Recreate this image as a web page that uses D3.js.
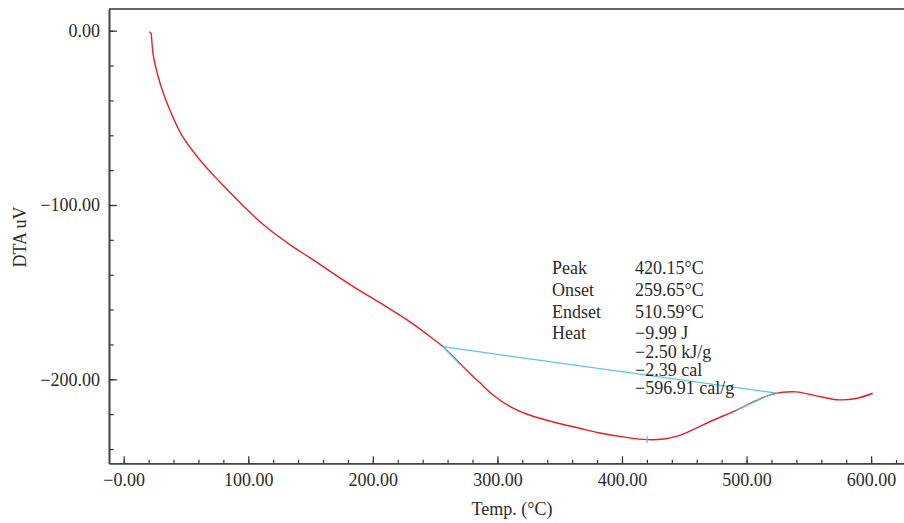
<!DOCTYPE html>
<html>
<head>
<meta charset="utf-8">
<script src="https://cdn.jsdelivr.net/npm/d3@7"></script>
<style>
  body { margin: 0; background: #fff; }
  svg text { font-family: "Liberation Serif", "DejaVu Serif", serif; fill: #2a2a2a; }
</style>
</head>
<body>
<div class="chart"></div>
<script>
// DTA curve
var temps = [20.5, 21.9, 22.5, 23.7, 27.7, 31.8, 37.1, 46.5, 61.2, 77.2, 93.3, 112, 136, 150,
  181.5, 210, 229.6, 245, 256.4, 275.1, 285.8, 296.5, 309.9, 323.3, 345, 366, 382.1, 406,
  420, 432, 445, 459.6, 473, 491.7, 507.7, 521, 539.8, 555.9, 574.5, 588, 601.3]
var dta = [-0.6, -1.5, -5.3, -14, -26.4, -35.9, -45.5, -59.8, -74.2, -86.8, -98.6, -111.2, -124, -130.5,
  -145.5, -158, -166.9, -175, -181.3, -194.6, -201.9, -209, -215.5, -219.9, -224.5, -228.1, -230.8, -233.6,
  -234.6, -234.4, -232.5, -228, -223.5, -217.8, -212.2, -208.5, -207.2, -209.5, -211.8, -211, -208]

// baseline + tangent construction (temp, value)
var baseline = [[255.9, -181.3], [525, -208]]
var onsetTangent = [[256.4, -181.3], [270, -191.5]]
var endTangent = [[491.7, -217.8], [522, -207.8]]
var peakPoint = [420.15, -234.6]

var xTicks = [0, 100, 200, 300, 400, 500, 600]
var xTickLabels = ['\u22120.00', '100.00', '200.00', '300.00', '400.00', '500.00', '600.00']
var yTicks = [0, -100, -200]
var yTickLabels = ['0.00', '\u2212100.00', '\u2212200.00']

var annLabels = ['Peak', 'Onset', 'Endset', 'Heat']
var annValues = ['420.15\u00b0C', '259.65\u00b0C', '510.59\u00b0C', '\u22129.99 J',
  '\u22122.50 kJ/g', '\u22122.39 cal', '\u2212596.91 cal/g']

var width = 904
var height = 523
var mLeft = 109, mRight = 904, mTop = 9, mBottom = 463.3
var fontSize = '18px'

var svg = d3.select('.chart')
  .append('svg')
  .attr('width', width)
  .attr('height', height)

var x = d3.scaleLinear().domain([-11.8, 626.4]).range([mLeft, mRight])
var y = d3.scaleLinear().domain([-248.2, 12.45]).range([mBottom, mTop])

function minorTicks(lo, hi) {
  return d3.range(lo, hi + 1, 20)
}

// top frame line
svg.append('line')
  .attr('x1', mLeft).attr('x2', mRight)
  .attr('y1', mTop).attr('y2', mTop)
  .attr('stroke', '#666')
  .attr('stroke-width', 2)

// minor ticks
svg.append('g')
  .attr('transform', 'translate(' + mLeft + ',0)')
  .call(d3.axisLeft(y).tickValues(minorTicks(-240, 0)).tickSize(-4.7).tickSizeOuter(0).tickFormat(''))
svg.append('g')
  .attr('transform', 'translate(0,' + mBottom + ')')
  .call(d3.axisBottom(x).tickValues(minorTicks(0, 620)).tickSize(-3.5).tickSizeOuter(0).tickFormat(''))

// major ticks + labels
svg.append('g')
  .attr('transform', 'translate(' + mLeft + ',0)')
  .call(d3.axisLeft(y).tickValues(yTicks).tickSize(-8).tickSizeOuter(0).tickPadding(9)
    .tickFormat(function(d, i) { return yTickLabels[i] }))
svg.append('g')
  .attr('transform', 'translate(0,' + mBottom + ')')
  .call(d3.axisBottom(x).tickValues(xTicks).tickSize(-7).tickSizeOuter(0).tickPadding(10)
    .tickFormat(function(d, i) { return xTickLabels[i] }))

svg.selectAll('.domain').attr('stroke', '#444').attr('stroke-width', 1.6)
svg.selectAll('.tick line').attr('stroke', '#333').attr('stroke-width', 1.2)
svg.selectAll('.tick text')
  .style('font-family', '"Liberation Serif", serif')
  .style('font-size', fontSize)
  .attr('fill', '#2a2a2a')

// axis titles
svg.append('text')
  .attr('x', 512).attr('y', 515)
  .attr('text-anchor', 'middle')
  .style('font-size', fontSize)
  .text('Temp. (\u00b0C)')

svg.append('text')
  .attr('transform', 'translate(26,237)rotate(-90)')
  .attr('text-anchor', 'middle')
  .style('font-size', fontSize)
  .text('DTA uV')

// curve
var pts = temps.map(function(t, i) { return [t, dta[i]] })
var line = d3.line()
  .x(function(d) { return x(d[0]) })
  .y(function(d) { return y(d[1]) })

svg.append('path')
  .datum(pts)
  .attr('d', line.curve(d3.curveCatmullRom.alpha(0.5)))
  .attr('fill', 'none')
  .attr('stroke', '#ec1c24')
  .attr('stroke-width', 1.4)

var straight = d3.line()
  .x(function(d) { return x(d[0]) })
  .y(function(d) { return y(d[1]) })

var cyan = '#5ec6da'
;[baseline, onsetTangent, endTangent].forEach(function(seg) {
  svg.append('path')
    .datum(seg)
    .attr('d', straight)
    .attr('fill', 'none')
    .attr('stroke', cyan)
    .attr('stroke-width', 1.3)
})

svg.append('line')
  .attr('x1', x(peakPoint[0])).attr('x2', x(peakPoint[0]))
  .attr('y1', y(peakPoint[1]) - 3.5).attr('y2', y(peakPoint[1]) + 3.5)
  .attr('stroke', cyan)
  .attr('stroke-width', 1.2)

// annotation block
var ann = svg.append('g').style('font-size', fontSize)
annLabels.forEach(function(s, i) {
  ann.append('text').attr('x', 552).attr('y', 274.3 + i * 21.7).text(s)
})
annValues.forEach(function(s, i) {
  var yy = i < 4 ? 274.3 + i * 21.7 : 339.4 + (i - 3) * 18.3
  ann.append('text').attr('x', 635).attr('y', yy).text(s)
})
</script>
</body>
</html>
